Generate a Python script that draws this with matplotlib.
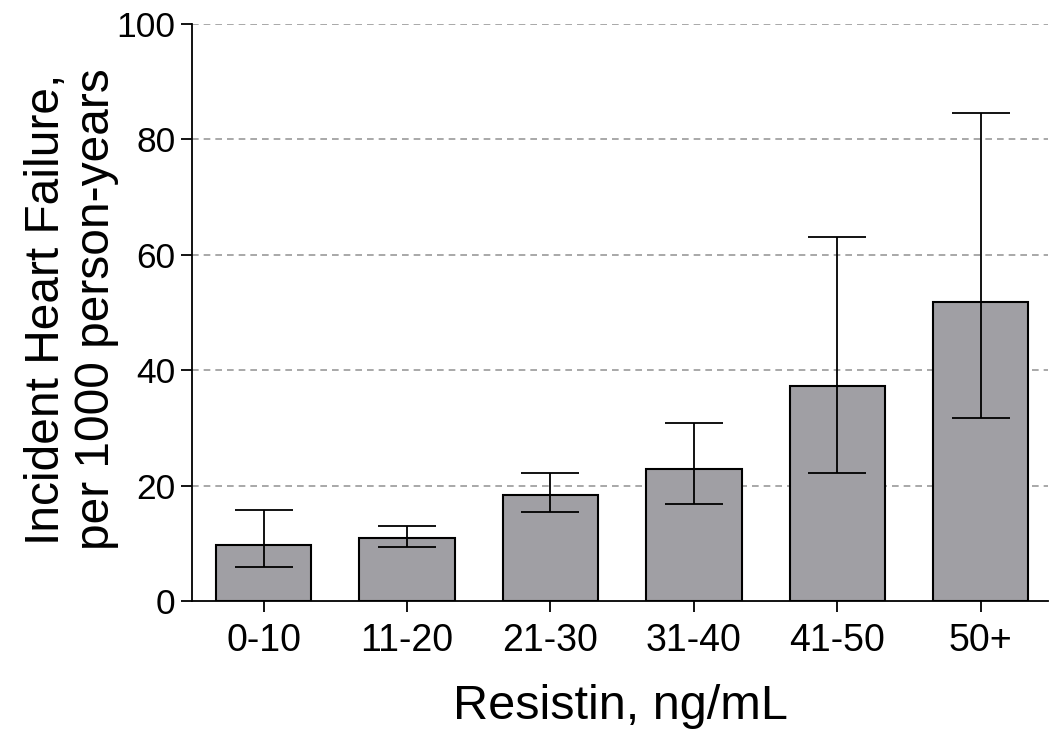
import matplotlib
matplotlib.use("Agg")
import matplotlib.pyplot as plt
import numpy as np

plt.rcParams['font.family'] = ['Liberation Sans', 'DejaVu Sans']

categories = ["0-10", "11-20", "21-30", "31-40", "41-50", "50+"]
rates = [9.7, 11.0, 18.4, 22.8, 37.2, 51.8]
ci_low = [5.9, 9.4, 15.4, 16.9, 22.1, 31.8]
ci_high = [15.8, 13.0, 22.1, 30.8, 63.1, 84.6]
yticks = [0, 20, 40, 60, 80, 100]

fig = plt.figure(figsize=(10.52, 7.36), dpi=100)
ax = fig.add_axes([0.1825, 0.1834, 0.8137, 0.7840])

x = np.arange(len(categories))
rates_a = np.array(rates)
yerr = np.vstack([rates_a - np.array(ci_low), np.array(ci_high) - rates_a])

for yv in yticks[1:]:
    ax.axhline(yv, color='#9a9a9a', linestyle=(0, (4, 3)), linewidth=1.2, zorder=0)

ax.bar(x, rates, width=0.665, color='#a09fa4', edgecolor='black', linewidth=1.5, zorder=2)
ax.errorbar(x, rates, yerr=yerr, fmt='none', ecolor='black', elinewidth=1.3,
            capsize=21, capthick=1.3, zorder=3)

ax.set_xlim(-0.5, 5.47)
ax.set_ylim(0, 100)
ax.set_yticks(yticks)
ax.set_xticks(x)
ax.set_xticklabels(categories)
ax.tick_params(axis='y', labelsize=25.5, length=8, width=1.3, pad=4)
ax.tick_params(axis='x', labelsize=27, length=8, width=1.3, pad=8)
for s in ['top', 'right']:
    ax.spines[s].set_visible(False)
for s in ['left', 'bottom']:
    ax.spines[s].set_linewidth(1.3)

ax.set_xlabel("Resistin, ng/mL", fontsize=35, labelpad=18)
ax.set_ylabel("Incident Heart Failure,\nper 1000 person-years", fontsize=34.5,
              linespacing=1.15)
ax.yaxis.set_label_coords(-0.085, 0.505)

fig.savefig("out.png", dpi=100)
